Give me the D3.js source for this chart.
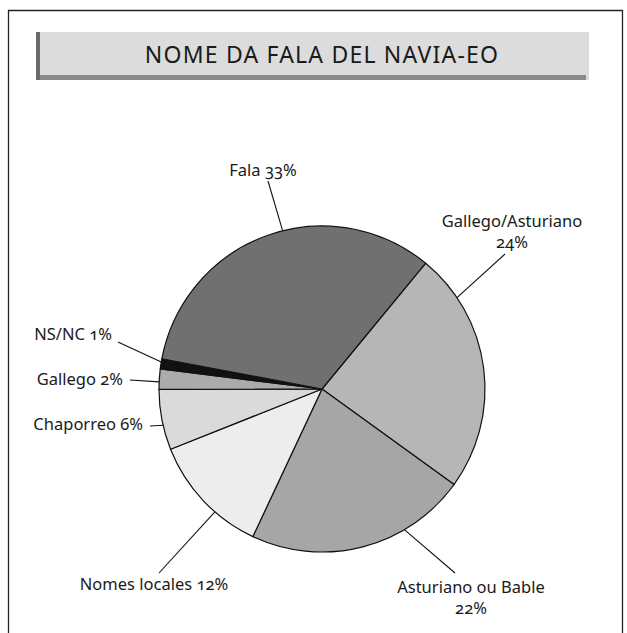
<!DOCTYPE html>
<html>
<head>
<meta charset="utf-8">
<script src="https://cdn.jsdelivr.net/npm/d3@7"></script>
<style>
  html, body { margin: 0; padding: 0; background: #fff; }
  svg { display: block; }
  text { font-family: "Noto Sans", "Open Sans", sans-serif; font-variant-numeric: oldstyle-nums; fill: #1a1a1a; }
</style>
</head>
<body>
<div id="chart"></div>
<script>
// data
const title = "NOME DA FALA DEL NAVIA-EO";
const categories = ["Gallego/Asturiano", "Asturiano ou Bable", "Nomes locales", "Chaporreo", "Gallego", "NS/NC", "Fala"];
const shares = [24, 22, 12, 6, 2, 1, 33];
const fills = ["#b6b6b6", "#a6a6a6", "#ededed", "#dadada", "#ababab", "#111111", "#707070"];

// label layout: where along the slice the leader leaves the rim (0..1),
// leader end point, text anchor point and alignment
const labelLayout = [
  {t: 0.19, end: [505, 254], at: [512, 227], anchor: "middle", split: true},
  {t: 0.30, end: [455, 573], at: [471, 593], anchor: "middle", split: true},
  {t: 0.37, end: [159, 573], at: [154, 590], anchor: "middle"},
  {t: 0.41, end: [150, 426], at: [143, 430], anchor: "end"},
  {t: 0.36, end: [130, 380], at: [123, 385], anchor: "end"},
  {t: 0.67, end: [118, 342], at: [112, 340], anchor: "end"},
  {t: 0.55, end: [268, 181], at: [263, 176], anchor: "middle"}
];

const width = 627, height = 633;
const cx = 322, cy = 389, radius = 163;

const svg = d3.select("#chart").append("svg")
  .attr("width", width)
  .attr("height", height);

// frame
svg.append("path")
  .attr("d", "M8.5," + (height + 5) + "V10.5H622.5V" + (height + 5))
  .attr("fill", "none")
  .attr("stroke", "#222")
  .attr("stroke-width", 1.3);

// title bar
let tb = svg.append("g");
tb.append("rect")
  .attr("x", 36).attr("y", 32).attr("width", 553).attr("height", 48)
  .attr("fill", "#dcdcdc");
tb.append("rect")
  .attr("x", 36).attr("y", 75).attr("width", 550).attr("height", 5)
  .attr("fill", "#8a8a8a");
tb.append("rect")
  .attr("x", 36).attr("y", 32).attr("width", 4).attr("height", 48)
  .attr("fill", "#6a6a6a");
tb.append("text")
  .attr("x", 322).attr("y", 63)
  .attr("text-anchor", "middle")
  .style("font-size", "23px")
  .style("letter-spacing", "1.2px")
  .text(title);

// pie
const start = 39.5 * Math.PI / 180;
let pie = d3.pie().sort(null).startAngle(start).endAngle(start + 2 * Math.PI);
let arcs = pie(shares);
let arc = d3.arc().innerRadius(0).outerRadius(radius);

let g = svg.append("g").attr("transform", "translate(" + [cx, cy] + ")");
g.selectAll("path.slice")
  .data(arcs)
  .enter()
  .append("path")
  .attr("class", "slice")
  .attr("d", arc)
  .attr("fill", (d, i) => fills[i])
  .attr("stroke", "#111")
  .attr("stroke-width", 1.2)
  .attr("stroke-linejoin", "round");

// leaders and labels
arcs.forEach(function (d, i) {
  let L = labelLayout[i];
  let a = d.startAngle + (d.endAngle - d.startAngle) * L.t;
  let x0 = cx + Math.sin(a) * radius, y0 = cy - Math.cos(a) * radius;
  svg.append("line")
    .attr("x1", x0).attr("y1", y0)
    .attr("x2", L.end[0]).attr("y2", L.end[1])
    .attr("stroke", "#111")
    .attr("stroke-width", 1.1);
  let txt = svg.append("text")
    .attr("x", L.at[0]).attr("y", L.at[1])
    .attr("text-anchor", L.anchor)
    .style("font-size", "16.5px");
  if (L.split) {
    txt.append("tspan").attr("x", L.at[0]).text(categories[i]);
    txt.append("tspan").attr("x", L.at[0]).attr("dy", 21).text(shares[i] + "%");
  } else {
    txt.text(categories[i] + " " + shares[i] + "%");
  }
});
</script>
</body>
</html>
